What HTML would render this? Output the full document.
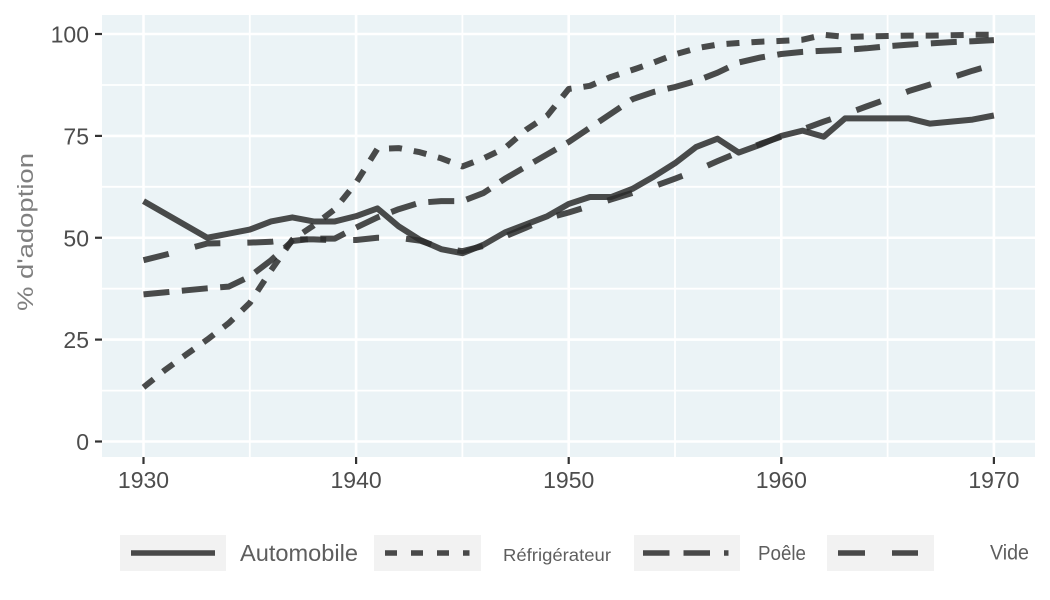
<!DOCTYPE html>
<html>
<head>
<meta charset="utf-8">
<style>
html,body{margin:0;padding:0;background:#fff;}
svg{display:block;}
text{font-family:"Liberation Sans",sans-serif;}
</style>
</head>
<body>
<svg width="1050" height="600" viewBox="0 0 1050 600" xmlns="http://www.w3.org/2000/svg">
<rect x="0" y="0" width="1050" height="600" fill="#ffffff"/>
<!-- panel -->
<rect x="102" y="15" width="933" height="442" fill="#EBF3F6"/>
<!-- minor grid -->
<g stroke="#ffffff" stroke-width="1.8">
<line x1="102" x2="1035" y1="390.6" y2="390.6"/>
<line x1="102" x2="1035" y1="288.7" y2="288.7"/>
<line x1="102" x2="1035" y1="186.8" y2="186.8"/>
<line x1="102" x2="1035" y1="85.0" y2="85.0"/>
<line y1="15" y2="457" x1="249.8" x2="249.8"/>
<line y1="15" y2="457" x1="462.4" x2="462.4"/>
<line y1="15" y2="457" x1="675" x2="675"/>
<line y1="15" y2="457" x1="887.6" x2="887.6"/>
</g>
<!-- major grid -->
<g stroke="#ffffff" stroke-width="2.6">
<line x1="102" x2="1035" y1="441.5" y2="441.5"/>
<line x1="102" x2="1035" y1="339.6" y2="339.6"/>
<line x1="102" x2="1035" y1="237.75" y2="237.75"/>
<line x1="102" x2="1035" y1="135.9" y2="135.9"/>
<line x1="102" x2="1035" y1="34.0" y2="34.0"/>
<line y1="15" y2="457" x1="143.5" x2="143.5"/>
<line y1="15" y2="457" x1="356.1" x2="356.1"/>
<line y1="15" y2="457" x1="568.7" x2="568.7"/>
<line y1="15" y2="457" x1="781.3" x2="781.3"/>
<line y1="15" y2="457" x1="993.9" x2="993.9"/>
</g>

<!-- series -->
<g fill="none" stroke="#2b2b2b" stroke-opacity="0.85" stroke-width="6" stroke-linejoin="round" stroke-linecap="butt">
<!-- Automobile -->
<polyline points="143.5,201.1 207.28,237.75 228.54,233.7 249.8,229.6 271.06,221.45 292.32,217.4 313.58,221.45 334.84,221.45 356.1,216.15 377.36,208.4 398.62,226.34 419.88,239.8 441.14,249.16 462.4,253.23 483.66,244.68 504.92,232.45 526.18,224.3 547.44,216.15 568.7,203.93 589.96,197.0 611.22,197.0 632.48,188.85 653.74,176.6 675.0,163.2 696.26,146.9 717.52,138.7 738.78,152.6 760.04,144.8 781.3,135.9 802.56,130.6 823.82,136.7 845.08,118.4 866.34,118.4 887.6,118.4 908.86,118.4 930.12,123.65 951.38,121.6 972.64,119.6 993.9,115.5"/>
<!-- Refrigerateur -->
<polyline stroke-dasharray="13 12" points="143.5,387.3 164.76,370.2 186.02,354.7 207.28,339.6 228.54,323.3 249.8,302.95 271.06,270.35 292.32,239.8 313.58,225.5 334.84,209.2 356.1,182.7 377.36,148.9 398.62,148.1 419.88,152.2 441.14,158.3 462.4,166.4 483.66,158.3 504.92,148.1 526.18,129.8 547.44,115.5 568.7,89.0 589.96,85.8 611.22,76.8 632.48,69.9 653.74,62.5 675.0,54.4 696.26,48.3 717.52,44.6 738.78,43.0 760.04,41.7 781.3,40.9 802.56,39.7 823.82,34.8 845.08,36.9 866.34,36.4 887.6,36.0 908.86,35.6 930.12,35.6 951.38,35.2 972.64,34.8 993.9,34.8"/>
<!-- Poele -->
<polyline stroke-dasharray="26 12.5" points="143.5,294.4 164.76,292.4 186.02,290.3 207.28,288.3 228.54,286.65 249.8,276.5 271.06,260.2 292.32,241.0 313.58,238.6 334.84,238.6 356.1,227.6 377.36,217.4 398.62,209.2 419.88,202.7 441.14,201.1 462.4,201.1 483.66,192.9 504.92,178.7 526.18,166.4 547.44,154.2 568.7,142.0 589.96,127.7 611.22,113.5 632.48,99.2 653.74,91.9 675.0,87.0 696.26,80.9 717.52,72.7 738.78,62.5 760.04,57.6 781.3,54.0 802.56,51.9 823.82,50.7 845.08,49.9 866.34,48.3 887.6,46.2 908.86,44.6 930.12,43.4 951.38,42.15 972.64,41.3 993.9,40.1"/>
<!-- Vide -->
<polyline stroke-dasharray="26 27" points="143.5,260.2 164.76,254.9 186.02,249.2 207.28,243.5 228.54,243.1 249.8,242.6 271.06,241.8 292.32,239.4 313.58,239.4 334.84,240.2 356.1,240.0 377.36,237.75 398.62,237.75 419.88,240.6 441.14,247.9 462.4,251.2 483.66,245.9 504.92,236.5 526.18,227.6 547.44,218.2 568.7,212.5 589.96,206.0 611.22,199.4 632.48,192.9 653.74,186.4 675.0,178.7 696.26,170.5 717.52,161.1 738.78,152.2 760.04,144.0 781.3,136.7 802.56,129.4 823.82,121.6 845.08,114.3 866.34,106.5 887.6,98.8 908.86,91.05 930.12,84.5 951.38,77.6 972.64,70.7 993.9,64.6"/>
</g>

<!-- axis ticks -->
<g stroke="#333333" stroke-width="2.2">
<line x1="95" x2="102" y1="441.5" y2="441.5"/>
<line x1="95" x2="102" y1="339.6" y2="339.6"/>
<line x1="95" x2="102" y1="237.75" y2="237.75"/>
<line x1="95" x2="102" y1="135.9" y2="135.9"/>
<line x1="95" x2="102" y1="34.0" y2="34.0"/>
<line y1="457" y2="464" x1="143.5" x2="143.5"/>
<line y1="457" y2="464" x1="356.1" x2="356.1"/>
<line y1="457" y2="464" x1="568.7" x2="568.7"/>
<line y1="457" y2="464" x1="781.3" x2="781.3"/>
<line y1="457" y2="464" x1="993.9" x2="993.9"/>
</g>

<!-- y tick labels -->
<g fill="#4d4d4d" font-size="23" text-anchor="end">
<text x="89" y="450">0</text>
<text x="89" y="348.1">25</text>
<text x="89" y="246.25">50</text>
<text x="89" y="144.4">75</text>
<text x="89" y="42.5">100</text>
</g>
<!-- x tick labels -->
<g fill="#4d4d4d" font-size="23" text-anchor="middle">
<text x="143.5" y="488">1930</text>
<text x="356.1" y="488">1940</text>
<text x="568.7" y="488">1950</text>
<text x="781.3" y="488">1960</text>
<text x="993.9" y="488">1970</text>
</g>

<!-- y axis title -->
<text transform="translate(33,232) rotate(-90)" fill="#7f7f7f" font-size="22" text-anchor="middle" textLength="158" lengthAdjust="spacingAndGlyphs">% d'adoption</text>

<!-- legend -->
<g fill="#f2f2f2">
<rect x="120" y="535" width="106" height="36"/>
<rect x="374" y="535" width="107" height="36"/>
<rect x="634" y="535" width="106" height="36"/>
<rect x="827" y="535" width="107" height="36"/>
</g>
<g fill="none" stroke="#2b2b2b" stroke-opacity="0.85" stroke-width="5.5" stroke-linecap="butt">
<line x1="131" x2="215" y1="553" y2="553"/>
<line x1="385" x2="469.5" y1="553" y2="553" stroke-dasharray="12 14"/>
<line x1="643" x2="728.5" y1="553" y2="553" stroke-dasharray="26.5 14"/>
<line x1="838" x2="918" y1="553" y2="553" stroke-dasharray="27 27"/>
</g>
<g fill="#5e5e5e">
<text x="240" y="561" font-size="23" textLength="118" lengthAdjust="spacingAndGlyphs">Automobile</text>
<text x="503" y="561" font-size="17.5" textLength="108" lengthAdjust="spacingAndGlyphs">Réfrigérateur</text>
<text x="758" y="560" font-size="20" textLength="48" lengthAdjust="spacingAndGlyphs">Poêle</text>
<text x="990" y="559.5" font-size="21" textLength="39" lengthAdjust="spacingAndGlyphs">Vide</text>
</g>
</svg>
</body>
</html>
